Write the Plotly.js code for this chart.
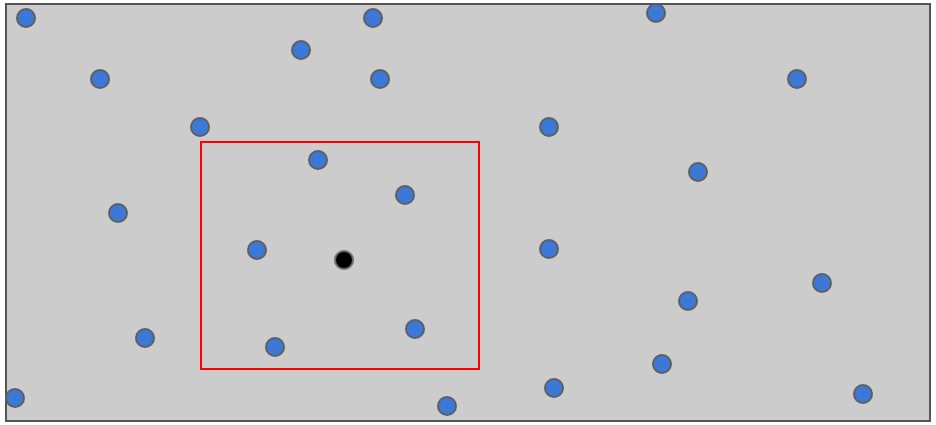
<!DOCTYPE html>
<html>
<head>
<meta charset="utf-8">
<script src="https://cdn.plot.ly/plotly-3.0.1.min.js"></script>
<style>html,body{margin:0;padding:0;background:#fff;}#chart{width:936px;height:425px;}</style>
</head>
<body>
<div id="chart"></div>
<script>
// Point positions (data units: x from left, y from top)
const pointsX = [20, 367, 650, 295, 94, 374, 791, 194, 543, 312, 692, 399, 112, 251, 543, 816, 682, 139, 409, 269, 656, 548, 9, 441, 857];
const pointsY = [14, 14, 9, 46, 75, 75, 75, 123, 123, 156, 168, 191, 209, 246, 245, 279, 297, 334, 325, 343, 360, 384, 394, 402, 390];
const queryX = [338];
const queryY = [256];
const boxX = [195, 473];
const boxY = [138, 365];
const xRange = [0, 924];
const yRange = [417, 0];

const traces = [
  {
    x: pointsX, y: pointsY, type: 'scatter', mode: 'markers', cliponaxis: false,
    marker: {size: 18, color: '#3b78d8', line: {color: '#5f5f5f', width: 2}},
    hoverinfo: 'skip'
  },
  {
    x: queryX, y: queryY, type: 'scatter', mode: 'markers', cliponaxis: false,
    marker: {size: 18, color: '#000000', line: {color: '#6a6a6a', width: 2}},
    hoverinfo: 'skip'
  }
];

const layout = {
  width: 936, height: 425,
  margin: {l: 6, r: 6, t: 4, b: 4, pad: 0},
  paper_bgcolor: '#ffffff',
  plot_bgcolor: '#cccccc',
  showlegend: false,
  xaxis: {range: xRange, visible: false, fixedrange: true},
  yaxis: {range: yRange, visible: false, fixedrange: true},
  shapes: [
    {type: 'rect', xref: 'x', yref: 'y', x0: boxX[0], x1: boxX[1], y0: boxY[0], y1: boxY[1],
     line: {color: '#ff0000', width: 2}, fillcolor: 'rgba(0,0,0,0)', layer: 'above'},
    {type: 'rect', xref: 'paper', yref: 'paper', x0: 0, x1: 1, y0: 0, y1: 1,
     line: {color: '#555555', width: 2}, fillcolor: 'rgba(0,0,0,0)', layer: 'below'}
  ]
};

Plotly.newPlot('chart', traces, layout, {displayModeBar: false, staticPlot: true});
</script>
</body>
</html>
